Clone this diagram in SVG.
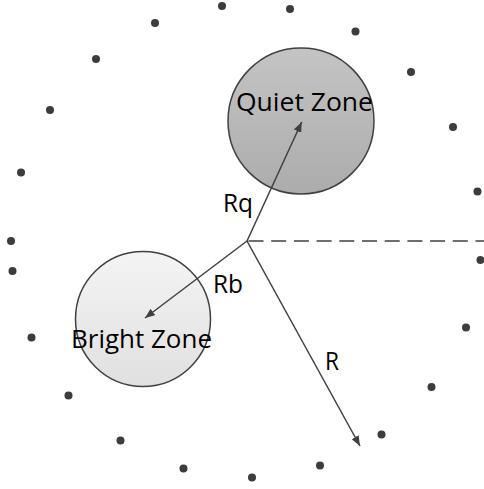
<svg xmlns="http://www.w3.org/2000/svg" width="484" height="489" viewBox="0 0 484 489">
<defs>
<linearGradient id="gq" x1="0" y1="0" x2="0" y2="1"><stop offset="0" stop-color="#c4c4c4"/><stop offset="1" stop-color="#acacac"/></linearGradient>
<linearGradient id="gb" x1="0" y1="0" x2="0" y2="1"><stop offset="0" stop-color="#f4f4f4"/><stop offset="1" stop-color="#e0e0e0"/></linearGradient>
<marker id="ah" viewBox="0 0 10 8" refX="10" refY="4" markerWidth="10" markerHeight="8" markerUnits="userSpaceOnUse" orient="auto"><path d="M0,0 L10,4 L0,8 Z" fill="#404040"/></marker>
</defs>
<style>
.dot{fill:#3c3c3c}
.zone{stroke:#404040;stroke-width:1.5}
.lbl{font-family:"Open Sans","Noto Sans",sans-serif;font-size:25px;fill:#000}
.ln{stroke:#404040;stroke-width:1.5;fill:none}
</style>
<g id="dots">
<circle class="dot" cx="155" cy="23" r="4"/>
<circle class="dot" cx="222" cy="6" r="4"/>
<circle class="dot" cx="290" cy="9" r="4"/>
<circle class="dot" cx="355.5" cy="31.5" r="4"/>
<circle class="dot" cx="411" cy="72" r="4"/>
<circle class="dot" cx="453" cy="127" r="4"/>
<circle class="dot" cx="477.5" cy="191.5" r="4"/>
<circle class="dot" cx="480.5" cy="260" r="4"/>
<circle class="dot" cx="466" cy="327.5" r="4"/>
<circle class="dot" cx="431.5" cy="387" r="4"/>
<circle class="dot" cx="381.5" cy="434.5" r="4"/>
<circle class="dot" cx="320" cy="465.5" r="4"/>
<circle class="dot" cx="252" cy="477.5" r="4"/>
<circle class="dot" cx="183.5" cy="468.5" r="4"/>
<circle class="dot" cx="120.5" cy="440.5" r="4"/>
<circle class="dot" cx="68.5" cy="395.5" r="4"/>
<circle class="dot" cx="31.5" cy="337.5" r="4"/>
<circle class="dot" cx="12.5" cy="271" r="4"/>
<circle class="dot" cx="11" cy="241" r="4"/>
<circle class="dot" cx="21" cy="172.5" r="4"/>
<circle class="dot" cx="50" cy="110" r="4"/>
<circle class="dot" cx="96" cy="59" r="4"/>
</g>
<g id="quiet-zone">
<circle class="zone" cx="301" cy="121" r="73" fill="url(#gq)"/>
<text class="lbl" x="236" y="111" textLength="137" lengthAdjust="spacingAndGlyphs">Quiet Zone</text>
</g>
<g id="bright-zone">
<circle class="zone" cx="143" cy="319" r="67.5" fill="url(#gb)"/>
<text class="lbl" x="71" y="348" textLength="141" lengthAdjust="spacingAndGlyphs">Bright Zone</text>
</g>
<g id="connectors">
<line class="ln" x1="247" y1="241" x2="484" y2="241" stroke-dasharray="15 7.7" stroke-dashoffset="-1.5"/>
<line class="ln" x1="247" y1="241" x2="301.7" y2="122" marker-end="url(#ah)"/>
<line class="ln" x1="247" y1="241" x2="145" y2="318" marker-end="url(#ah)"/>
<line class="ln" x1="247" y1="241" x2="360" y2="446" marker-end="url(#ah)"/>
</g>
<g id="labels">
<text class="lbl" x="223" y="211.5" textLength="30" lengthAdjust="spacingAndGlyphs">Rq</text>
<text class="lbl" x="213" y="293" textLength="30" lengthAdjust="spacingAndGlyphs">Rb</text>
<text class="lbl" x="325" y="370" textLength="14" lengthAdjust="spacingAndGlyphs">R</text>
</g>
</svg>
